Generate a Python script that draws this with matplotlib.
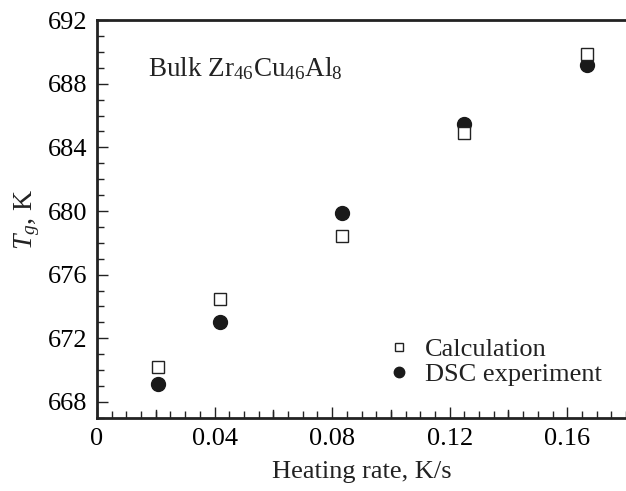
import matplotlib.pyplot as plt
from matplotlib.ticker import MultipleLocator

plt.rcParams["font.family"] = ["Liberation Serif", "DejaVu Serif"]
plt.rcParams["mathtext.fontset"] = "custom"
plt.rcParams["mathtext.rm"] = "Liberation Serif"
plt.rcParams["mathtext.it"] = "Liberation Serif:italic"

# heating rate, K/s
rate = [0.0208, 0.0417, 0.0833, 0.125, 0.1667]
# Tg, K
tg_calc = [670.2, 674.5, 678.4, 684.9, 689.9]
tg_dsc = [669.1, 673.0, 679.9, 685.5, 689.2]

fig = plt.figure(figsize=(6.26, 4.91), dpi=100)
ax = fig.add_axes([0.155, 0.149, 0.845, 0.81])

ax.plot(rate, tg_calc, "s", mfc="white", mec="#222222", mew=1.0, ms=8.5,
        label="Calculation", zorder=3)
ax.plot(rate, tg_dsc, "o", color="#1a1a1a", ms=10, label="DSC experiment", zorder=2)

ax.set_xlim(0, 0.18)
ax.set_ylim(667, 692)
ax.set_xticks([0, 0.04, 0.08, 0.12, 0.16])
ax.set_xticklabels(["0", "0.04", "0.08", "0.12", "0.16"])
ax.set_yticks([668, 672, 676, 680, 684, 688, 692])
ax.xaxis.set_minor_locator(MultipleLocator(0.005))
ax.yaxis.set_minor_locator(MultipleLocator(1))

# longer ticks every 0.02 without labels
for xv in [0.02, 0.06, 0.10, 0.14]:
    ax.axvline(xv, ymin=0, ymax=0.02, color="#222222", lw=1.0)

ax.tick_params(which="both", direction="in", top=False, right=False,
               labelsize=19, color="#222222", width=1.0, pad=7)
ax.tick_params(which="major", length=8)
ax.tick_params(which="minor", length=5)

for s in ["left", "bottom", "top"]:
    ax.spines[s].set_linewidth(2.0)
    ax.spines[s].set_color("#222222")
ax.spines["right"].set_visible(False)

ax.set_xlabel("Heating rate, K/s", fontsize=19, color="#222222", labelpad=8)
ax.set_ylabel(r"$T_g$, K", fontsize=20, color="#222222", labelpad=4)

ax.text(0.096, 0.86, r"Bulk Zr$_{46}$Cu$_{46}$Al$_8$", transform=ax.transAxes,
        fontsize=19.5, color="#222222")

leg = ax.legend(loc="lower right", bbox_to_anchor=(1.0, 0.02), frameon=False,
                fontsize=19, handletextpad=0.5, labelspacing=0.05,
                handlelength=1.0, markerscale=0.75)
for t in leg.get_texts():
    t.set_color("#222222")

fig.savefig("out.png", dpi=100)
